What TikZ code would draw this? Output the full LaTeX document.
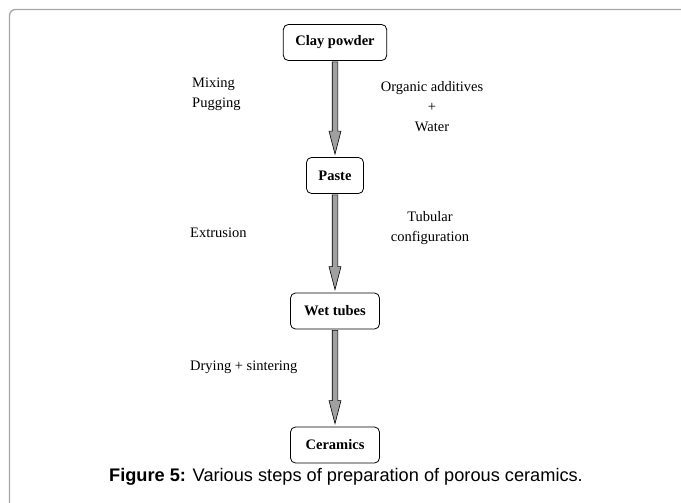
\documentclass[tikz,border=0pt]{standalone}
\usepackage{fontspec}
\setmainfont{Liberation Serif}
\newfontfamily\capfont{Liberation Sans}
\usetikzlibrary{calc}
\definecolor{framegray}{RGB}{165,165,165}
\definecolor{shaftgray}{RGB}{160,160,160}

\begin{document}
\begin{tikzpicture}[x=1pt,y=-1pt,every node/.style={font=\fontsize{14.5}{20}\selectfont},
        box/.style={draw,rounded corners=5pt,line width=0.8pt,inner xsep=12pt,
                    minimum height=36pt,align=center,font=\fontsize{14.5}{20}\selectfont\bfseries},
        note/.style={inner sep=0pt}]
      \useasboundingbox (0,0) rectangle (681,503);
      \draw[framegray,line width=1.3pt,rounded corners=6pt] (681,9.5) -| (9.5,503);
      \node[box] (clay) at (335,42.5)  {Clay powder};
      \node[box] (paste) at (335,175.5) {Paste};
      \node[box,minimum width=89pt] (wet) at (335,311) {Wet tubes};
      \node[box,minimum width=89pt] (cer) at (335,445) {Ceramics};
      \foreach \a/\b in {clay/paste,paste/wet,wet/cer}{
        \filldraw[fill=shaftgray,line width=0.6pt]
          ($(\a.south)+(-2.8,1)$) -- ($(\b.north)+(-2.8,-26)$) -- ($(\b.north)+(-6,-26)$)
          -- ($(\b.north)+(0,-3)$) -- ($(\b.north)+(6,-26)$) -- ($(\b.north)+(2.8,-26)$)
          -- ($(\a.south)+(2.8,1)$) -- cycle;
      }
      \node[note,anchor=north west,align=left] (mix) at (192,78) {Mixing\\Pugging};
      \node[note,anchor=north,align=center] (add) at (432,81) {Organic additives\\+\\Water};
      \node[note,anchor=base west] (ext) at (190,237) {Extrusion};
      \node[note,anchor=north,align=center] (tub) at (430,211) {Tubular\\configuration};
      \node[note,anchor=base west] (dry) at (190,370) {Drying + sintering};
      \node[anchor=base,inner sep=0pt,font=\capfont\fontsize{18.2}{20}\selectfont] (cap) at (346,481)
        {\textbf{Figure 5:} Various steps of preparation of porous ceramics.};
    \end{tikzpicture}
\end{document}
